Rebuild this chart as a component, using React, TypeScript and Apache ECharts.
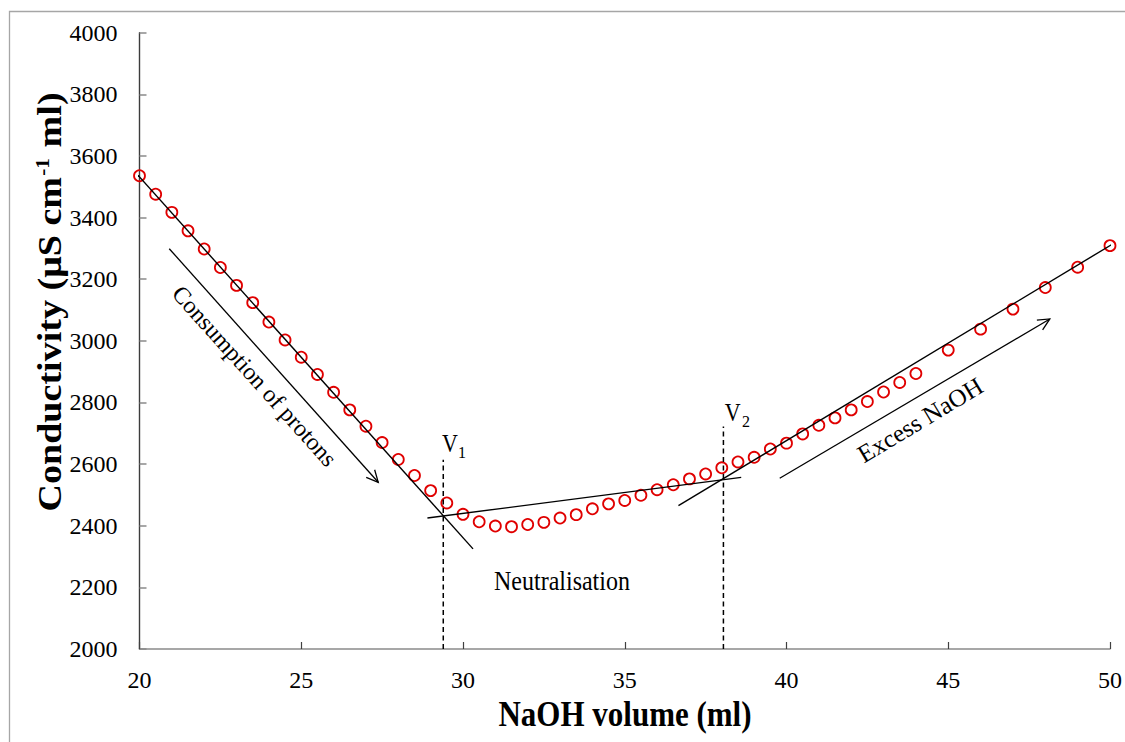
import React, { useEffect, useRef } from "react";
import * as echarts from "echarts";

// ---- data ----
const VOLUME = [
  20, 20.5, 21, 21.5, 22, 22.5, 23, 23.5, 24, 24.5, 25, 25.5, 26, 26.5, 27, 27.5, 28, 28.5, 29, 29.5,
  30, 30.5, 31, 31.5, 32, 32.5, 33, 33.5, 34, 34.5, 35, 35.5, 36, 36.5, 37, 37.5, 38, 38.5, 39, 39.5,
  40, 40.5, 41, 41.5, 42, 42.5, 43, 43.5, 44, 45, 46, 47, 48, 49, 50,
];
const CONDUCTIVITY = [
  3536, 3476, 3417, 3357, 3298, 3238, 3180, 3124, 3061, 3003, 2947, 2891, 2833, 2776, 2723, 2670, 2615, 2563, 2514, 2474,
  2437, 2413, 2399, 2397, 2404, 2411, 2425, 2436, 2455, 2471, 2482, 2499, 2517, 2533, 2552, 2568, 2588, 2607, 2622, 2649,
  2668, 2698, 2726, 2750, 2776, 2803, 2834, 2865, 2894, 2970, 3038, 3103, 3173, 3239, 3309,
];

// fitted straight lines [x, y]
const FIT_PROTONS = [[19.83, 3552], [30.31, 2325]];
const FIT_NEUTRAL = [[28.9, 2425], [38.6, 2557]];
const FIT_EXCESS = [[36.66, 2465], [50.25, 3325]];

// equivalence volumes and the top of their dashed markers
const V1_X = 29.39;
const V1_TOP = 2614;
const V2_X = 38.05;
const V2_TOP = 2722;

// arrows [x1, y1, x2, y2]
const ARROWS = [
  [20.92, 3299, 27.38, 2541],
  [39.79, 2554, 48.14, 3071],
];

// axes
const X_MIN = 20, X_MAX = 50, X_STEP = 5;
const Y_MIN = 2000, Y_MAX = 4000, Y_STEP = 200;

const X_TITLE = "NaOH volume (ml)";
const Y_TITLE = "Conductivity (μS cm{sup|-1} ml)";

// annotation anchors in data coordinates
const NOTE_PROTONS = { text: "Consumption of protons", at: [23.555, 2886], angle: -48.1 };
const NOTE_EXCESS = { text: "Excess NaOH", at: [44.13, 2743], angle: 31 };
const NOTE_NEUTRAL = { text: "Neutralisation", at: [33.06, 2221] };
const NOTE_V1 = { v: [29.6, 2666], sub: "1", subAt: [29.97, 2638] };
const NOTE_V2 = { v: [38.34, 2766], sub: "2", subAt: [38.75, 2738] };

const SERIF = "Liberation Serif";

export default function App() {
  const ref = useRef<HTMLDivElement>(null);

  useEffect(() => {
    const chart = echarts.init(ref.current as HTMLDivElement, null, { renderer: "svg" });

    const points = VOLUME.map((v, i) => [v, CONDUCTIVITY[i]]);
    const fitLine = (data: number[][]) => ({
      type: "line",
      data,
      symbol: "none",
      showSymbol: false,
      clip: false,
      silent: true,
      z: 4,
      lineStyle: { color: "#000", width: 1.4 },
    });
    const dashLine = (x: number, top: number) => ({
      type: "line",
      data: [[x, Y_MIN], [x, top]],
      symbol: "none",
      showSymbol: false,
      clip: false,
      silent: true,
      z: 4,
      lineStyle: { color: "#000", width: 1.5, type: [5, 3.5] },
    });
    const tickLabel = {
      fontSize: 24,
      fontFamily: SERIF,
      color: "#000",
      formatter: (v: number) => String(v),
    };

    chart.setOption({
      animation: false,
      backgroundColor: "#fff",
      textStyle: { fontFamily: SERIF, fontSize: 24, color: "#000" },
      grid: { left: 139.5, top: 32.7, width: 970.5, height: 616.3, containLabel: false },
      xAxis: {
        type: "value",
        min: X_MIN,
        max: X_MAX,
        interval: X_STEP,
        splitLine: { show: false },
        axisLine: { show: true, onZero: false, lineStyle: { color: "#8a8a8a", width: 1.5 } },
        axisTick: { show: true, inside: true, length: 7, lineStyle: { color: "#404040", width: 1.2 } },
        axisLabel: { ...tickLabel, margin: 19 },
      },
      yAxis: {
        type: "value",
        min: Y_MIN,
        max: Y_MAX,
        interval: Y_STEP,
        splitLine: { show: false },
        axisLine: { show: true, onZero: false, lineStyle: { color: "#3c3c3c", width: 1.4 } },
        axisTick: { show: true, inside: true, length: 7, lineStyle: { color: "#8a8a8a", width: 1.5 } },
        axisLabel: { ...tickLabel, margin: 22 },
      },
      series: [
        {
          type: "scatter",
          data: points,
          symbol: "circle",
          symbolSize: 11,
          z: 3,
          itemStyle: { color: "rgba(255,255,255,0)", borderColor: "#e00000", borderWidth: 1.8, opacity: 1 },
        },
        fitLine(FIT_PROTONS),
        fitLine(FIT_NEUTRAL),
        fitLine(FIT_EXCESS),
        dashLine(V1_X, V1_TOP),
        dashLine(V2_X, V2_TOP),
        {
          type: "custom",
          data: ARROWS,
          encode: { x: [0, 2], y: [1, 3] },
          clip: false,
          silent: true,
          z: 4,
          renderItem: (_params: any, api: any) => {
            const a = api.coord([api.value(0), api.value(1)]);
            const b = api.coord([api.value(2), api.value(3)]);
            const ang = Math.atan2(b[1] - a[1], b[0] - a[0]);
            const L = 13;
            const w = 0.45;
            const p1 = [b[0] - L * Math.cos(ang - w), b[1] - L * Math.sin(ang - w)];
            const p2 = [b[0] - L * Math.cos(ang + w), b[1] - L * Math.sin(ang + w)];
            return {
              type: "group",
              children: [
                { type: "line", shape: { x1: a[0], y1: a[1], x2: b[0], y2: b[1] }, style: { stroke: "#000", lineWidth: 1.3 } },
                { type: "polyline", shape: { points: [p1, b, p2] }, style: { stroke: "#000", fill: "none", lineWidth: 1.3 } },
              ],
            };
          },
        },
      ],
    });

    const px = (p: number[]) => chart.convertToPixel({ gridIndex: 0 }, p) as number[];
    const txt = (text: string, at: number[], size: number, extra: any = {}, bold = false) => {
      const [x, y] = px(at);
      return {
        type: "text",
        x,
        y,
        z: 10,
        ...extra,
        style: {
          text,
          fontSize: size,
          fontFamily: SERIF,
          fontWeight: bold ? "bold" : "normal",
          fill: "#000",
          align: "center",
          verticalAlign: "middle",
          textAlign: "center",
          textVerticalAlign: "middle",
        },
      };
    };

    chart.setOption({
      graphic: [
        {
          type: "rect",
          shape: { x: 9.5, y: 11.5, width: 1300, height: 900 },
          style: { fill: "none", stroke: "#a6a6a6", lineWidth: 1.3 },
          silent: true,
          z: 0,
        },
        {
          type: "text",
          x: 625,
          y: 714,
          scaleY: 1.15,
          z: 10,
          style: {
            text: X_TITLE,
            fontSize: 31,
            fontWeight: "bold",
            fontFamily: SERIF,
            fill: "#000",
            align: "center",
            verticalAlign: "middle",
            textAlign: "center",
            textVerticalAlign: "middle",
          },
        },
        {
          type: "text",
          x: 50,
          y: 302,
          rotation: Math.PI / 2,
          scaleX: 1.12,
          z: 10,
          style: {
            text: Y_TITLE,
            fontSize: 34,
            fontWeight: "bold",
            fontFamily: SERIF,
            fill: "#000",
            align: "center",
            verticalAlign: "middle",
            textAlign: "center",
            textVerticalAlign: "middle",
            rich: {
              sup: { fontSize: 19, fontWeight: "bold", fontFamily: SERIF, fill: "#000", verticalAlign: "top", padding: [0, 1, 0, 1] },
            },
          },
        },
        txt(NOTE_PROTONS.text, NOTE_PROTONS.at, 24, { rotation: (NOTE_PROTONS.angle * Math.PI) / 180 }),
        txt(NOTE_EXCESS.text, NOTE_EXCESS.at, 25, { rotation: (NOTE_EXCESS.angle * Math.PI) / 180 }),
        txt(NOTE_NEUTRAL.text, NOTE_NEUTRAL.at, 24, { scaleY: 1.1 }),
        txt("V", NOTE_V1.v, 22, { scaleY: 1.1 }),
        txt(NOTE_V1.sub, NOTE_V1.subAt, 16),
        txt("V", NOTE_V2.v, 22, { scaleY: 1.1 }),
        txt(NOTE_V2.sub, NOTE_V2.subAt, 16),
      ],
    });

    return () => chart.dispose();
  }, []);

  return (
    <div
      ref={ref}
      style={{ position: "absolute", left: 0, top: 0, width: 1125, height: 742, background: "#fff" }}
    />
  );
}
